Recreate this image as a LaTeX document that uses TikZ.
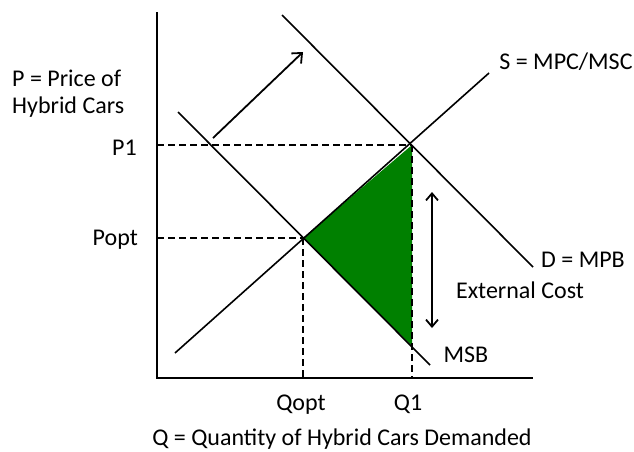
\documentclass[tikz,border=0pt]{standalone}
\usepackage{fontspec}
\setmainfont{Carlito}
\usepackage{tikz}
\usetikzlibrary{arrows.meta}
\definecolor{areagreen}{RGB}{0,128,0}

\begin{document}
\begin{tikzpicture}[x=1pt, y=-1pt,
  lbl/.style={inner sep=0pt, font=\fontsize{24}{27}\selectfont},
  crv/.style={line width=1.6pt},
  axs/.style={line width=2pt},
  guide/.style={line width=1.8pt, dash pattern=on 7pt off 4pt},
  ar/.style={line width=1.8pt, -{Straight Barb[length=8pt, width=14pt, line width=1.8pt]}},
  dar/.style={line width=1.8pt, {Straight Barb[length=7pt, width=12pt, line width=1.8pt]}-{Straight Barb[length=7pt, width=12pt, line width=1.8pt]}}
]
\useasboundingbox (0,0) rectangle (634,451);

% points
\coordinate (ytop) at (157,12);
\coordinate (orig) at (157,378);
\coordinate (xend) at (533,378);
\coordinate (eopt) at (303,238);
\coordinate (e1) at (412,145);
\coordinate (q1msb) at (412,346);
\coordinate (popt) at (157,238);
\coordinate (p1) at (157,145);
\coordinate (qopt) at (303,378);
\coordinate (q1) at (412,378);

% welfare loss
\fill[areagreen] (eopt) -- (e1) -- (q1msb) -- cycle;

% guides
\draw[guide] (p1) -- (e1);
\draw[guide] (popt) -- (eopt);
\draw[guide] (eopt) -- (qopt);
\draw[guide] (e1) -- (q1);

% curves
\coordinate (s0) at (175,353);
\coordinate (s1) at (489,73);
\coordinate (msb0) at (178,112);
\coordinate (msb1) at (430,365);
\coordinate (d0) at (282,15);
\coordinate (d1) at (533,267);
\draw[crv] (s0) -- (s1);
\draw[crv] (msb0) -- (msb1);
\draw[crv] (d0) -- (d1);

% axes
\draw[axs] (ytop) -- (orig) -- (xend);

% shift and cost arrows
\coordinate (sh0) at (213,138);
\coordinate (sh1) at (303,52);
\coordinate (ec0) at (432,192);
\coordinate (ec1) at (432,328);
\draw[ar] (sh0) -- (sh1);
\draw[dar] (ec0) -- (ec1);

% labels
\node[lbl] (slbl) at (566,62) {S = MPC/MSC};
\node[lbl] (dlbl) at (583,260) {D = MPB};
\node[lbl] (eclbl) at (520,290) {External Cost};
\node[lbl] (msblbl) at (466,355) {MSB};
\node[lbl, anchor=north west, align=left] (plbl) at (12,70) {P = Price of\\Hybrid Cars};
\node[lbl, anchor=east] (p1lbl) at (137,148) {P1};
\node[lbl, anchor=east] (poptlbl) at (138,240) {Popt};
\node[lbl] (qoptlbl) at (301,405) {Qopt};
\node[lbl] (q1lbl) at (408,404) {Q1};
\node[lbl] (qlbl) at (342,439) {Q = Quantity of Hybrid Cars Demanded};
\end{tikzpicture}
\end{document}
